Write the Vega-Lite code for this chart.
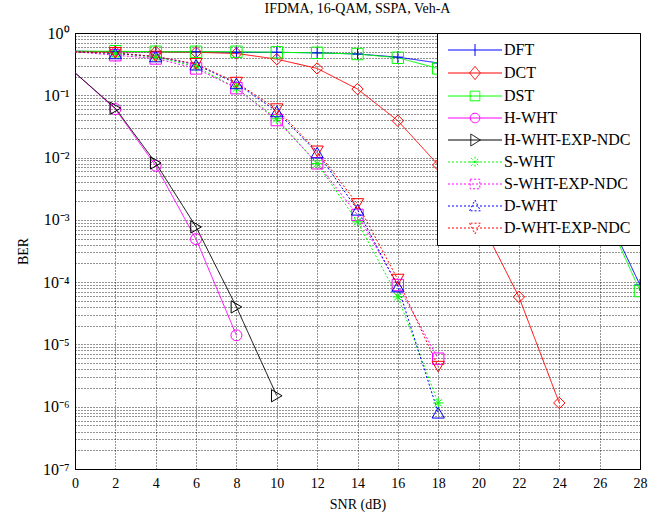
{
  "$schema": "https://vega.github.io/schema/vega-lite/v6.json",
  "autosize": {"type": "none"},
  "padding": {"left": 75, "top": 33, "right": 19, "bottom": 52},
  "width": 565,
  "height": 436,
  "background": "white",
  "title": {"text": "IFDMA, 16-QAM, SSPA, Veh-A", "font": "Liberation Serif", "fontSize": 14, "fontWeight": "normal", "color": "black", "offset": 9},
  "config": {
    "view": {"stroke": "black", "strokeWidth": 1},
    "axis": {
      "labelFont": "Liberation Serif", "labelFontSize": 14, "labelColor": "black",
      "titleFont": "Liberation Serif", "titleFontSize": 14, "titleFontWeight": "normal", "titleColor": "black",
      "domainColor": "black", "ticks": false,
      "gridColor": "black", "gridDash": [1, 2], "gridOpacity": 0.85, "gridWidth": 1
    },
    "legend": {
      "orient": "top-right", "offset": 0,
      "fillColor": "white", "strokeColor": "black", "padding": 9,
      "labelFont": "Liberation Serif", "labelFontSize": 16, "labelColor": "black", "labelLimit": 300,
      "symbolSize": 144, "symbolStrokeWidth": 1, "labelOffset": 42, "rowPadding": 6, "symbolOpacity": 1
    }
  },
  "data": {"values": [
    {"series": "DFT", "snr": 0, "ber": 0.51}, {"series": "DFT", "snr": 2, "ber": 0.5}, {"series": "DFT", "snr": 4, "ber": 0.5}, {"series": "DFT", "snr": 6, "ber": 0.5}, {"series": "DFT", "snr": 8, "ber": 0.49}, {"series": "DFT", "snr": 10, "ber": 0.49}, {"series": "DFT", "snr": 12, "ber": 0.48}, {"series": "DFT", "snr": 14, "ber": 0.46}, {"series": "DFT", "snr": 16, "ber": 0.41}, {"series": "DFT", "snr": 18, "ber": 0.33}, {"series": "DFT", "snr": 20, "ber": 0.14}, {"series": "DFT", "snr": 22, "ber": 0.05}, {"series": "DFT", "snr": 24, "ber": 0.012}, {"series": "DFT", "snr": 26, "ber": 0.0021}, {"series": "DFT", "snr": 28, "ber": 0.00009},
    {"series": "DCT", "snr": 0, "ber": 0.5}, {"series": "DCT", "snr": 2, "ber": 0.5}, {"series": "DCT", "snr": 4, "ber": 0.5}, {"series": "DCT", "snr": 6, "ber": 0.49}, {"series": "DCT", "snr": 8, "ber": 0.47}, {"series": "DCT", "snr": 10, "ber": 0.38}, {"series": "DCT", "snr": 12, "ber": 0.27}, {"series": "DCT", "snr": 14, "ber": 0.126}, {"series": "DCT", "snr": 16, "ber": 0.039}, {"series": "DCT", "snr": 18, "ber": 0.0076}, {"series": "DCT", "snr": 20, "ber": 0.0011}, {"series": "DCT", "snr": 22, "ber": 0.000058}, {"series": "DCT", "snr": 24, "ber": 0.00000115},
    {"series": "DST", "snr": 0, "ber": 0.51}, {"series": "DST", "snr": 2, "ber": 0.51}, {"series": "DST", "snr": 4, "ber": 0.5}, {"series": "DST", "snr": 6, "ber": 0.5}, {"series": "DST", "snr": 8, "ber": 0.5}, {"series": "DST", "snr": 10, "ber": 0.49}, {"series": "DST", "snr": 12, "ber": 0.48}, {"series": "DST", "snr": 14, "ber": 0.46}, {"series": "DST", "snr": 16, "ber": 0.4}, {"series": "DST", "snr": 18, "ber": 0.27}, {"series": "DST", "snr": 20, "ber": 0.12}, {"series": "DST", "snr": 22, "ber": 0.045}, {"series": "DST", "snr": 24, "ber": 0.011}, {"series": "DST", "snr": 26, "ber": 0.002}, {"series": "DST", "snr": 28, "ber": 0.000072},
    {"series": "H-WHT", "snr": 0, "ber": 0.23}, {"series": "H-WHT", "snr": 2, "ber": 0.06}, {"series": "H-WHT", "snr": 4, "ber": 0.0074}, {"series": "H-WHT", "snr": 6, "ber": 0.00049}, {"series": "H-WHT", "snr": 8, "ber": 0.000014},
    {"series": "H-WHT-EXP-NDC", "snr": 0, "ber": 0.23}, {"series": "H-WHT-EXP-NDC", "snr": 2, "ber": 0.062}, {"series": "H-WHT-EXP-NDC", "snr": 4, "ber": 0.0082}, {"series": "H-WHT-EXP-NDC", "snr": 6, "ber": 0.00077}, {"series": "H-WHT-EXP-NDC", "snr": 8, "ber": 0.00004}, {"series": "H-WHT-EXP-NDC", "snr": 10, "ber": 0.0000015},
    {"series": "S-WHT", "snr": 0, "ber": 0.5}, {"series": "S-WHT", "snr": 2, "ber": 0.47}, {"series": "S-WHT", "snr": 4, "ber": 0.41}, {"series": "S-WHT", "snr": 6, "ber": 0.29}, {"series": "S-WHT", "snr": 8, "ber": 0.13}, {"series": "S-WHT", "snr": 10, "ber": 0.042}, {"series": "S-WHT", "snr": 12, "ber": 0.008}, {"series": "S-WHT", "snr": 14, "ber": 0.00093}, {"series": "S-WHT", "snr": 16, "ber": 0.000058}, {"series": "S-WHT", "snr": 18, "ber": 0.00000115},
    {"series": "S-WHT-EXP-NDC", "snr": 0, "ber": 0.5}, {"series": "S-WHT-EXP-NDC", "snr": 2, "ber": 0.44}, {"series": "S-WHT-EXP-NDC", "snr": 4, "ber": 0.39}, {"series": "S-WHT-EXP-NDC", "snr": 6, "ber": 0.27}, {"series": "S-WHT-EXP-NDC", "snr": 8, "ber": 0.13}, {"series": "S-WHT-EXP-NDC", "snr": 10, "ber": 0.04}, {"series": "S-WHT-EXP-NDC", "snr": 12, "ber": 0.0081}, {"series": "S-WHT-EXP-NDC", "snr": 14, "ber": 0.0012}, {"series": "S-WHT-EXP-NDC", "snr": 16, "ber": 0.00009}, {"series": "S-WHT-EXP-NDC", "snr": 18, "ber": 0.0000059},
    {"series": "D-WHT", "snr": 0, "ber": 0.5}, {"series": "D-WHT", "snr": 2, "ber": 0.47}, {"series": "D-WHT", "snr": 4, "ber": 0.42}, {"series": "D-WHT", "snr": 6, "ber": 0.31}, {"series": "D-WHT", "snr": 8, "ber": 0.155}, {"series": "D-WHT", "snr": 10, "ber": 0.055}, {"series": "D-WHT", "snr": 12, "ber": 0.012}, {"series": "D-WHT", "snr": 14, "ber": 0.00145}, {"series": "D-WHT", "snr": 16, "ber": 0.000085}, {"series": "D-WHT", "snr": 18, "ber": 0.0000008},
    {"series": "D-WHT-EXP-NDC", "snr": 0, "ber": 0.5}, {"series": "D-WHT-EXP-NDC", "snr": 2, "ber": 0.48}, {"series": "D-WHT-EXP-NDC", "snr": 4, "ber": 0.42}, {"series": "D-WHT-EXP-NDC", "snr": 6, "ber": 0.32}, {"series": "D-WHT-EXP-NDC", "snr": 8, "ber": 0.16}, {"series": "D-WHT-EXP-NDC", "snr": 10, "ber": 0.06}, {"series": "D-WHT-EXP-NDC", "snr": 12, "ber": 0.0126}, {"series": "D-WHT-EXP-NDC", "snr": 14, "ber": 0.0018}, {"series": "D-WHT-EXP-NDC", "snr": 16, "ber": 0.00011}, {"series": "D-WHT-EXP-NDC", "snr": 18, "ber": 0.0000044}
  ]},
  "encoding": {
    "x": {"field": "snr", "type": "quantitative", "title": "SNR (dB)",
      "scale": {"domain": [0, 28], "nice": false},
      "axis": {"values": [0, 2, 4, 6, 8, 10, 12, 14, 16, 18, 20, 22, 24, 26, 28], "labelPadding": 7, "titlePadding": 7, "labelFlush": false}},
    "y": {"field": "ber", "type": "quantitative", "title": "BER",
      "scale": {"type": "log", "domain": [0.0000001, 1], "nice": false},
      "axis": {
        "values": [0.0000001, 0.0000002, 0.0000003, 0.0000004, 0.0000005, 0.0000006, 0.0000007, 0.0000008, 0.0000009, 0.000001, 0.000002, 0.000003, 0.000004, 0.000005, 0.000006, 0.000007, 0.000008, 0.000009, 0.00001, 0.00002, 0.00003, 0.00004, 0.00005, 0.00006, 0.00007, 0.00008, 0.00009, 0.0001, 0.0002, 0.0003, 0.0004, 0.0005, 0.0006, 0.0007, 0.0008, 0.0009, 0.001, 0.002, 0.003, 0.004, 0.005, 0.006, 0.007, 0.008, 0.009, 0.01, 0.02, 0.03, 0.04, 0.05, 0.06, 0.07, 0.08, 0.09, 0.1, 0.2, 0.3, 0.4, 0.5, 0.6, 0.7, 0.8, 0.9, 1],
        "labelExpr": "abs(log(datum.value)/LN10 - round(log(datum.value)/LN10)) < 0.001 ? ['10⁰','10⁻¹','10⁻²','10⁻³','10⁻⁴','10⁻⁵','10⁻⁶','10⁻⁷'][abs(round(log(datum.value)/LN10))] : ''",
        "labelOverlap": false, "labelFlush": false, "labelPadding": 6, "titlePadding": 12, "labelFontSize": 16}},
    "color": {"field": "series", "type": "nominal", "title": null,
      "scale": {"domain": ["DFT", "DCT", "DST", "H-WHT", "H-WHT-EXP-NDC", "S-WHT", "S-WHT-EXP-NDC", "D-WHT", "D-WHT-EXP-NDC"],
        "range": ["#0000ff", "#ff0000", "#00ff00", "#ff00ff", "#000000", "#00ff00", "#ff00ff", "#0000ff", "#ff0000"]}}
  },
  "layer": [
    {
      "mark": {"type": "line", "strokeWidth": 1, "clip": true},
      "encoding": {
        "strokeDash": {"field": "series", "type": "nominal", "title": null,
          "scale": {"domain": ["DFT", "DCT", "DST", "H-WHT", "H-WHT-EXP-NDC", "S-WHT", "S-WHT-EXP-NDC", "D-WHT", "D-WHT-EXP-NDC"],
            "range": [[1, 0], [1, 0], [1, 0], [1, 0], [1, 0], [2, 2], [2, 2], [2, 2], [2, 2]]}}
      }
    },
    {
      "transform": [{"filter": "false"}],
      "mark": {"type": "point", "filled": false, "strokeWidth": 1, "opacity": 1},
      "encoding": {
        "shape": {"field": "series", "type": "nominal", "title": null,
          "scale": {"domain": ["DFT", "DCT", "DST", "H-WHT", "H-WHT-EXP-NDC", "S-WHT", "S-WHT-EXP-NDC", "D-WHT", "D-WHT-EXP-NDC"],
            "range": ["M-1,0H8M3.5,-1V1", "M-1,0H8M3.5,-1.1L4.4,0L3.5,1.1L2.6,0Z", "M-1,0H8M2.7,-0.8H4.3V0.8H2.7Z", "M-1,0H8M2.7,0A0.8,0.8 0 1,0 4.3,0A0.8,0.8 0 1,0 2.7,0", "M-1,0H8M2.8,-1L4.4,0L2.8,1Z", "M-1,0H8M3.5,-0.9V0.9M2.6,0H4.4M2.85,-0.65L4.15,0.65M2.85,0.65L4.15,-0.65", "M-1,0H8M2.7,-0.8H4.3V0.8H2.7Z", "M-1,0H8M2.6,0.8L3.5,-1L4.4,0.8Z", "M-1,0H8M2.6,-0.8L3.5,1L4.4,-0.8Z"]}}
      }
    },
    {
      "transform": [{"filter": {"and": [{"field": "series", "oneOf": ["DFT"]}, {"field": "snr", "gt": 0}]}}],
      "mark": {"type": "point", "shape": "M-1,0H1M0,-1V1", "filled": false, "strokeWidth": 1, "size": 140, "opacity": 1, "clip": true}
    },
    {
      "transform": [{"filter": {"and": [{"field": "series", "oneOf": ["DCT"]}, {"field": "snr", "gt": 0}]}}],
      "mark": {"type": "point", "shape": "diamond", "filled": false, "strokeWidth": 1, "size": 130, "opacity": 1, "clip": true}
    },
    {
      "transform": [{"filter": {"and": [{"field": "series", "oneOf": ["DST", "S-WHT-EXP-NDC"]}, {"field": "snr", "gt": 0}]}}],
      "mark": {"type": "point", "shape": "square", "filled": false, "strokeWidth": 1, "size": 130, "opacity": 1, "clip": true}
    },
    {
      "transform": [{"filter": {"and": [{"field": "series", "oneOf": ["H-WHT"]}, {"field": "snr", "gt": 0}]}}],
      "mark": {"type": "point", "shape": "circle", "filled": false, "strokeWidth": 1, "size": 120, "opacity": 1, "clip": true}
    },
    {
      "transform": [{"filter": {"and": [{"field": "series", "oneOf": ["H-WHT-EXP-NDC"]}, {"field": "snr", "gt": 0}]}}],
      "mark": {"type": "point", "shape": "triangle-right", "filled": false, "strokeWidth": 1, "size": 150, "opacity": 1, "clip": true}
    },
    {
      "transform": [{"filter": {"and": [{"field": "series", "oneOf": ["S-WHT"]}, {"field": "snr", "gt": 0}]}}],
      "mark": {"type": "point", "shape": "M-1,0H1M0,-1V1M-0.7,-0.7L0.7,0.7M-0.7,0.7L0.7,-0.7", "filled": false, "strokeWidth": 1, "size": 110, "opacity": 1, "clip": true}
    },
    {
      "transform": [{"filter": {"and": [{"field": "series", "oneOf": ["D-WHT"]}, {"field": "snr", "gt": 0}]}}],
      "mark": {"type": "point", "shape": "triangle-up", "filled": false, "strokeWidth": 1, "size": 150, "opacity": 1, "clip": true}
    },
    {
      "transform": [{"filter": {"and": [{"field": "series", "oneOf": ["D-WHT-EXP-NDC"]}, {"field": "snr", "gt": 0}]}}],
      "mark": {"type": "point", "shape": "triangle-down", "filled": false, "strokeWidth": 1, "size": 150, "opacity": 1, "clip": true}
    }
  ]
}
